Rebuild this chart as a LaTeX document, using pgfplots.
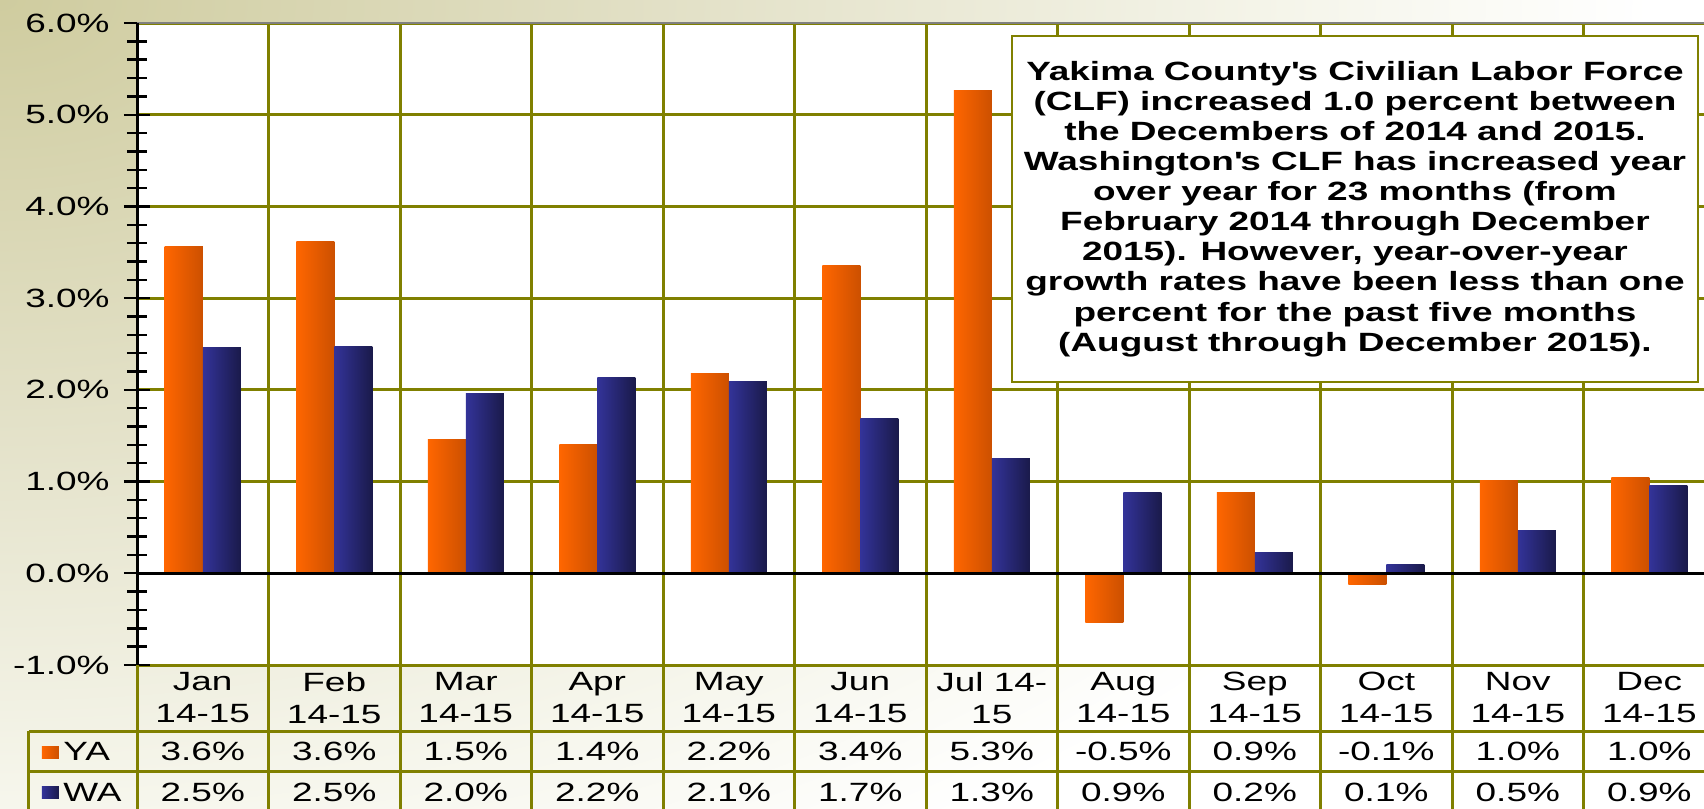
\documentclass[border=0pt]{standalone}
\usepackage{fontspec}
\setmainfont{Liberation Sans}[FakeStretch=1.4]
\usepackage{pgfplots}
\pgfplotsset{compat=1.18}
\definecolor{olv}{HTML}{808000}
\definecolor{ya1}{HTML}{FF6600}
\definecolor{ya2}{HTML}{CC5000}
\definecolor{wa1}{HTML}{333399}
\definecolor{wa2}{HTML}{1A1A4A}
\definecolor{bgA}{HTML}{CFCC9F}
\definecolor{bgB}{HTML}{E2E0C6}
\definecolor{bgC}{HTML}{F6F6EC}
\definecolor{topgray}{HTML}{808080}
\pgfdeclareradialshading{bgshade}{\pgfpoint{0bp}{0bp}}{color(0bp)=(bgA); color(10bp)=(bgB); color(20bp)=(bgC); color(25bp)=(white); color(50bp)=(white)}
\newcommand{\fs}{\fontsize{13.25}{16}\selectfont}
\newcommand{\tv}[3]{\node[anchor=base, inner sep=0pt, font=\fs] at (axis cs:#1,#2) {#3};}
\newcommand{\yab}[2]{\addplot[ybar, bar width=0.289, bar shift=-0.1445, draw=none, left color=ya1, right color=ya2] coordinates {(#1,#2)};}
\newcommand{\wab}[2]{\addplot[ybar, bar width=0.289, bar shift=0.1445, draw=none, left color=wa1, right color=wa2] coordinates {(#1,#2)};}

\begin{document}
\begin{tikzpicture}
\useasboundingbox (0,0) rectangle (852bp,404.5bp);
\fill[white] (0,0) rectangle (852bp,404.5bp);
\begin{scope}
\clip (0,0) rectangle (852bp,404.5bp);
\path[shading=bgshade] (-825bp,-95.5bp) rectangle (825bp,904.5bp);
\end{scope}
\begin{axis}[
  at={(68.5bp,72bp)}, anchor=south west,
  scale only axis, width=783.5bp, height=321bp,
  xmin=-0.5, xmax=11.416, ymin=-1, ymax=6,
  clip=false,
  axis line style={draw=none},
  axis background/.style={fill=white},
  tick pos=left,
  ytick={-1,0,...,6},
  minor y tick num=4,
  ymajorgrids,
  major grid style={olv, line width=1.5bp},
  tick align=center,
  major tick length=13bp, minor tick length=10bp,
  ytick style={black, line width=1.2bp},
  xtick={0,...,11},
  xtick style={draw=none},
  xticklabels={{Jan\\14-15},{Feb\\14-15},{Mar\\14-15},{Apr\\14-15},{May\\14-15},{Jun\\14-15},{Jul 14-\\15},{Aug\\14-15},{Sep\\14-15},{Oct\\14-15},{Nov\\14-15},{Dec\\14-15}},
  xticklabel style={anchor=north, align=center, inner sep=0pt, font=\fs},
  xticklabel shift=-3bp,
  yticklabel={\pgfmathprintnumber[fixed,fixed zerofill,precision=1]{\tick}\%},
  yticklabel style={anchor=east, inner sep=0pt, font=\fs},
  yticklabel shift=7bp,
  /pgf/number format/assume math mode=true,
]
\pgfplotsinvokeforeach{0.5,1.5,2.5,3.5,4.5,5.5,6.5,7.5,8.5,9.5,10.5}{
  \draw[olv, line width=1.5bp] (axis cs:#1,6) -- (axis cs:#1,-2.7);
}
% YA bars
\yab{0}{3.56}\yab{1}{3.62}\yab{2}{1.46}\yab{3}{1.40}\yab{4}{2.18}\yab{5}{3.36}
\yab{6}{5.26}\yab{7}{-0.54}\yab{8}{0.88}\yab{9}{-0.12}\yab{10}{1.01}\yab{11}{1.04}
% WA bars
\wab{0}{2.46}\wab{1}{2.47}\wab{2}{1.965}\wab{3}{2.14}\wab{4}{2.09}\wab{5}{1.69}
\wab{6}{1.25}\wab{7}{0.88}\wab{8}{0.225}\wab{9}{0.095}\wab{10}{0.466}\wab{11}{0.955}
\draw[black, line width=1.5bp] (axis cs:-0.5,0) -- (axis cs:11.416,0);
\draw[topgray, line width=1.2bp] (axis cs:-0.5,6) -- (axis cs:11.416,6);
\draw[black, line width=1.5bp] (axis cs:-0.5,-1) -- (axis cs:-0.5,6);
\draw[olv, line width=1.5bp] (axis cs:-0.5,-1) -- (axis cs:-0.5,-2.7);
% data table values
\tv{0}{-2.036}{3.6\%}\tv{1}{-2.036}{3.6\%}\tv{2}{-2.036}{1.5\%}\tv{3}{-2.036}{1.4\%}
\tv{4}{-2.036}{2.2\%}\tv{5}{-2.036}{3.4\%}\tv{6}{-2.036}{5.3\%}\tv{7}{-2.036}{-0.5\%}
\tv{8}{-2.036}{0.9\%}\tv{9}{-2.036}{-0.1\%}\tv{10}{-2.036}{1.0\%}\tv{11}{-2.036}{1.0\%}
\tv{0}{-2.483}{2.5\%}\tv{1}{-2.483}{2.5\%}\tv{2}{-2.483}{2.0\%}\tv{3}{-2.483}{2.2\%}
\tv{4}{-2.483}{2.1\%}\tv{5}{-2.483}{1.7\%}\tv{6}{-2.483}{1.3\%}\tv{7}{-2.483}{0.9\%}
\tv{8}{-2.483}{0.2\%}\tv{9}{-2.483}{0.1\%}\tv{10}{-2.483}{0.5\%}\tv{11}{-2.483}{0.9\%}
\end{axis}
\begin{scope}[x=0.5bp,y=0.5bp]
 \draw[olv, line width=1.5bp] (29,78) -- (1710,78);
 \draw[olv, line width=1.5bp] (29,38) -- (1710,38);
 \draw[olv, line width=1.5bp] (29,78) -- (29,-5);
 \shade[left color=ya1, right color=ya2] (42,51) rectangle (59,63);
 \shade[left color=wa1, right color=wa2] (42,11) rectangle (59,23);
 \node[anchor=base west, inner sep=0pt, font=\fs] at (63,49) {YA};
 \node[anchor=base west, inner sep=0pt, font=\fs] at (63,8) {WA};
 \draw[olv, line width=1.2bp, fill=white] (1012,773) rectangle (1698,427);
 \node[align=center, font=\bfseries\fontsize{13.25}{15.1}\selectfont, inner sep=0pt] at (1355,600) {Yakima County\textquotesingle s Civilian Labor Force\\(CLF) increased 1.0 percent between\\the Decembers of 2014 and 2015.\\Washington\textquotesingle s CLF has increased year\\over year for 23 months (from\\February 2014 through December\\2015). However, year-over-year\\growth rates have been less than one\\percent for the past five months\\(August through December 2015).};
\end{scope}
\end{tikzpicture}
\end{document}
